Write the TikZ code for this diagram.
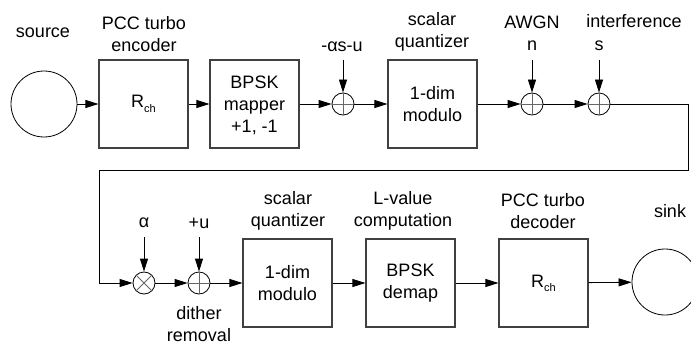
\documentclass[tikz,border=0pt]{standalone}
\usepackage{fontspec}
\setmainfont{Liberation Sans}
\usetikzlibrary{arrows.meta}
\begin{document}
\begin{tikzpicture}[x=1pt,y=-1pt,
  every node/.style={font=\fontsize{18}{22}\selectfont, inner sep=0pt},
  blk/.style={draw=black!75, line width=1.1pt, minimum width=89pt, minimum height=88pt, align=center},
  ring/.style={draw, circle, line width=0.8pt, minimum size=66pt},
  summ/.style={draw, circle, line width=0.8pt, minimum size=22pt},
  lbl/.style={align=center},
  arr/.style={line width=0.8pt, -{Triangle[length=13pt,width=8pt]}},
  ln/.style={line width=0.8pt}
]
\useasboundingbox (0,0) rectangle (691,345);
\newcommand{\Rch}{R\raisebox{-0.45ex}{\fontsize{11}{11}\selectfont ch}}
% top row
\node[ring] (src) at (44,104) {};
\node[blk] (enc) at (143.5,104) {\Rch};
\node[blk, text depth=0pt] (map) at (254.5,104) {\fontsize{18}{20}\selectfont BPSK\\mapper\\+1, -1};
\node[summ] (s1) at (343,104) {};
\node[blk] (mod1) at (432.5,104) {1-dim\\modulo};
\node[summ] (sn) at (532,104) {};
\node[summ] (ss) at (599,104) {};
% bottom row
\node[summ] (mu) at (144,283) {};
\node[summ] (su) at (199,283) {};
\node[blk] (mod2) at (287.5,283) {1-dim\\modulo};
\node[blk] (dem) at (410.5,283) {BPSK\\demap};
\node[blk] (dec) at (543.5,283) {\Rch};
\node[ring] (snk) at (665,282) {};
% plus / times marks
\foreach \n in {s1,sn,ss,su}{
  \draw[black!60, line width=0.8pt] (\n.north) -- (\n.south) (\n.west) -- (\n.east);
}
\draw[black!60, line width=0.8pt] (mu.north west) -- (mu.south east) (mu.north east) -- (mu.south west);
% labels
\node[lbl] (lsrc) at (43,33) {source};
\node[lbl] (lenc) at (144,34) {PCC turbo\\encoder};
\node[lbl] (ls1) at (342,47) {-αs-u};
\node[lbl] (lmod1) at (432,32) {scalar\\quantizer};
\node[lbl] (lsn) at (532,33) {AWGN\\n};
\node[lbl] (lint) at (634,21) {interference};
\node[lbl] (lss) at (599,46) {s};
\node[lbl] (lmu) at (144,223) {α};
\node[lbl] (lsu) at (199,223) {+u};
\node[lbl] (ldith) at (199,324) {dither\\removal};
\node[lbl] (lmod2) at (288,211) {scalar\\quantizer};
\node[lbl] (ldem) at (403,211) {L-value\\computation};
\node[lbl] (ldec) at (543,211) {PCC turbo\\decoder};
\node[lbl] (lsnk) at (670,211) {sink};
% input coordinates
\coordinate (i1) at (343,60);
\coordinate (i2) at (532,60);
\coordinate (i3) at (599,60);
\coordinate (i4) at (144,237);
\coordinate (i5) at (199,237);
\coordinate (c1) at (688,104);
\coordinate (c2) at (688,170);
\coordinate (c3) at (99,170);
\coordinate (c4) at (99,283);
% connectors
\draw[arr] (src) -- (enc);
\draw[arr] (enc) -- (map);
\draw[arr] (map) -- (s1);
\draw[arr] (s1) -- (mod1);
\draw[arr] (mod1) -- (sn);
\draw[arr] (sn) -- (ss);
\draw[ln] (ss.east) -- (c1) -- (c2) -- (c3) -- (c4);
\draw[arr] (c4) -- (mu);
\draw[arr] (mu) -- (su);
\draw[arr] (su) -- (mod2);
\draw[arr] (mod2) -- (dem);
\draw[arr] (dem) -- (dec);
\draw[arr] (dec) -- (snk);
\draw[arr] (i1) -- (s1);
\draw[arr] (i2) -- (sn);
\draw[arr] (i3) -- (ss);
\draw[arr] (i4) -- (mu);
\draw[arr] (i5) -- (su);
\end{tikzpicture}
\end{document}
